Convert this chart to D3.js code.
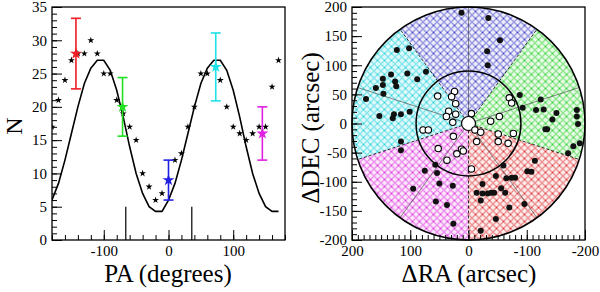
<!DOCTYPE html>
<html><head><meta charset="utf-8">
<script src="https://cdn.jsdelivr.net/npm/d3@7"></script>
<style>
body{margin:0;background:#fff}
text{font-family:"Liberation Serif","Times New Roman",serif}
</style></head>
<body><svg id="c" width="600" height="292"></svg>
<script>
// ---------- LEFT PANEL DATA ----------
const curvePA = [-180,-170,-160,-150,-140,-130,-120,-110,-100,-90,-80,-70,-60,-50,-40,-30,-20,-10,0,10,20,30,40,50,60,70,80,90,100,110,120,130,140,150,160,170];
const curveN  = [6,8.5,12,16,20,23.5,25.8,27,27,25.5,22.5,18.5,14,10,7,5,4.3,4.3,6,8.5,12,16,20,23.5,25.8,27,27,25.5,22.5,18.5,14,10,7,5,4.3,4.3];
const starPA = [-180,-170,-160,-150,-140,-130,-120,-110,-100,-90,-80,-70,-60,-50,-40,-30,-20,-10,10,20,30,40,50,60,80,90,100,110,120,130,140,150,160,170];
const starN  = [17,21,24,27,28,28,30,28,25,25,21,19,17,15,10,8,6,7,12,13,17,20,25,25,24,20,17,16,15,16,17,17,23,27];
const binPA  = [-143,-71,0,73,145];
const binN   = [28,20,9,26,16];
const binLo  = [22.7,15.6,6,20.9,12];
const binHi  = [33.3,24.4,12,31.1,20];
const binColor = ["#ee1c24","#22e022","#2020e0","#20e0e8","#e020e0"];
const markPA = [-66,36];
const markN  = 5;
const xTicksL = [-100,0,100];
const yTicksL = [0,5,10,15,20,25,30,35];

// ---------- RIGHT PANEL DATA ----------
// sectors: blue (N), cyan (NE), magenta (SE), red (S-W), green (W)
const sectorPA0 = [-36,36,108,180,-108];
const sectorPA1 = [36,108,180,252,-36];
const sectorLine = ["#4a4ac8","#2ed4dc","#dc3cdc","#de3c3c","#3cd43c"];
const sectorBg   = ["#ececfa","#e0f9fb","#fbe6fb","#fcebeb","#e6fae6"];
const boundaryPA = [36,108,180,-108,-36];
const centerPA = [0,72,144,-144,-72];
const ringR = [200,90];
const holeR = 12;
const filledRA  = [12,-34,-54,-32,-33, 123,102,73,105,133,147,126,147,124,159,146,88,176,101,116,128,130,153,116,116, -88,-93,-124,-116,-129,-151,-144,-132,-135,-186,-186,-188,-191,-180,-171, -60,-114,-101,-108,-47,-24,-65,-74,-80,-56,-14,-24,-33,-39,-44,-63,-21,-96,-70,-47,-21, 75,95,57,54,50,56,27,37,26];
const filledDEC = [190,181,143,124,100, 126,129,89,86,84,77,72,66,64,61,51,76,42,20,16,16,9,13,-31,-46, 49,27,41,23,24,18,7,-10,-10,23,12,-1,-34,-39,-51, -72,-64,-82,-83,-90,-104,-94,-93,-93,-111,-119,-120,-120,-119,-119,-119,-132,-138,-144,-164,-184, -81,-112,-71,-85,-103,-134,-107,-140,-172];
const openRA  = [24,29,22,53,34,38,22,27,-5,26,78,69,52,37,12,9,20,-11,-21,-14,-5,-38,-53,-51,-51,-68,-77,-70,-74];
const openDEC = [55,46,34,47,21,12,16,2,17,-22,-11,-11,-43,-63,-44,-47,-52,-11,-15,-31,-78,4,12,-18,-31,-34,-17,44,35];
const xTicksR = [200,100,0,-100,-200];
const yTicksR = [-200,-150,-100,-50,0,50,100,150,200];

const svg = d3.select("#c");
const font = "Liberation Serif, Times New Roman, serif";

function styleAxis(g){
  g.select(".domain").remove();
  g.selectAll(".tick line").attr("stroke","#000").attr("stroke-width",1);
  g.selectAll(".tick text").attr("font-family",font).attr("font-size",15).attr("fill","#000");
}

// ===== LEFT =====
const xL = d3.scaleLinear().domain([-180,180]).range([52,285]);
const yL = d3.scaleLinear().domain([0,35]).range([240,7]);
const gL = svg.append("g");
const defs = svg.append("defs");
defs.append("clipPath").attr("id","clipL").append("rect").attr("x",52).attr("y",7).attr("width",233).attr("height",233);

gL.append("g").attr("transform","translate(0,240)")
  .call(d3.axisBottom(xL).tickValues(d3.range(-180,181,20)).tickSize(-5).tickFormat(""))
  .call(styleAxis);
gL.append("g").attr("transform","translate(0,240)")
  .call(d3.axisBottom(xL).tickValues(xTicksL).tickSize(-10).tickPadding(5).tickFormat(d=>d<0?"-"+Math.abs(d):d))
  .call(styleAxis);
gL.append("g").attr("transform","translate(52,0)")
  .call(d3.axisLeft(yL).tickValues(d3.range(0,36,1)).tickSize(-5).tickFormat(""))
  .call(styleAxis);
gL.append("g").attr("transform","translate(52,0)")
  .call(d3.axisLeft(yL).tickValues(yTicksL).tickSize(-10).tickPadding(5))
  .call(styleAxis);
gL.append("rect").attr("x",52).attr("y",7).attr("width",233).attr("height",233)
  .attr("fill","none").attr("stroke","#000").attr("stroke-width",1.3);

const pL = gL.append("g").attr("clip-path","url(#clipL)");
pL.append("path").datum(curvePA.map((p,i)=>[p,curveN[i]]))
  .attr("d",d3.line().x(d=>xL(d[0])).y(d=>yL(d[1])))
  .attr("fill","none").attr("stroke","#000").attr("stroke-width",1.6);
pL.selectAll(".mk").data(markPA).join("line")
  .attr("x1",d=>xL(d)).attr("x2",d=>xL(d)).attr("y1",yL(0)).attr("y2",yL(markN))
  .attr("stroke","#000").attr("stroke-width",1.2);
const star = d3.symbol().type(d3.symbolStar);
pL.selectAll(".st").data(starPA.map((p,i)=>[p,starN[i]])).join("path")
  .attr("d",star.size(15)()).attr("transform",d=>`translate(${xL(d[0])},${yL(d[1])})`)
  .attr("fill","#000");
binPA.forEach((p,i)=>{
  const c=binColor[i], x=xL(p);
  pL.append("line").attr("x1",x).attr("x2",x).attr("y1",yL(binLo[i])).attr("y2",yL(binHi[i])).attr("stroke",c).attr("stroke-width",1.6);
  [binLo[i],binHi[i]].forEach(v=>pL.append("line").attr("x1",x-5).attr("x2",x+5).attr("y1",yL(v)).attr("y2",yL(v)).attr("stroke",c).attr("stroke-width",1.6));
  pL.append("path").attr("d",d3.symbol().type(d3.symbolStar).size(45)()).attr("transform",`translate(${x},${yL(binN[i])})`).attr("fill",c);
});
gL.append("text").attr("x",168).attr("y",282).attr("text-anchor","middle").attr("font-size",25).attr("font-family",font).text("PA (degrees)");
gL.append("text").attr("transform","translate(22,126) rotate(-90)").attr("text-anchor","middle").attr("font-size",24).attr("font-family",font).text("N");

// ===== RIGHT =====
const xR = d3.scaleLinear().domain([200,-200]).range([352,585]);
const yR = d3.scaleLinear().domain([-200,200]).range([240,7]);
const gR = svg.append("g");
const cx = xR(0), cy = yR(0);
const rpx = v => xR(0)-xR(v);

sectorLine.forEach((c,i)=>{
  const pat = defs.append("pattern").attr("id","h"+i).attr("patternUnits","userSpaceOnUse").attr("width",7).attr("height",7);
  pat.append("rect").attr("width",7).attr("height",7).attr("fill",sectorBg[i]);
  pat.append("path").attr("d","M0,0L7,7M7,0L0,7").attr("stroke",c).attr("stroke-width",1).attr("fill","none");
});
const arc = d3.arc().innerRadius(0).outerRadius(rpx(ringR[0]));
sectorPA0.forEach((a0,i)=>{
  const a = -a0*Math.PI/180, b = -sectorPA1[i]*Math.PI/180;
  gR.append("path").attr("transform",`translate(${cx},${cy})`)
    .attr("d",arc({startAngle:Math.min(a,b),endAngle:Math.max(a,b)}))
    .attr("fill",`url(#h${i})`);
});
function ray(pa){ const t=pa*Math.PI/180; return [Math.sin(t),Math.cos(t)]; }
boundaryPA.forEach(pa=>{
  const [s,c]=ray(pa);
  gR.append("line").attr("x1",xR(s*holeR)).attr("y1",yR(c*holeR)).attr("x2",xR(s*ringR[0])).attr("y2",yR(c*ringR[0]))
    .attr("stroke","#000").attr("stroke-width",0.8).attr("stroke-dasharray","3,2");
});
centerPA.forEach(pa=>{
  const [s,c]=ray(pa);
  gR.append("line").attr("x1",xR(s*holeR)).attr("y1",yR(c*holeR)).attr("x2",xR(s*ringR[0])).attr("y2",yR(c*ringR[0]))
    .attr("stroke","#555").attr("stroke-width",0.7);
});
ringR.forEach(r=>gR.append("circle").attr("cx",cx).attr("cy",cy).attr("r",rpx(r)).attr("fill","none").attr("stroke","#000").attr("stroke-width",1.5));
gR.append("circle").attr("cx",cx).attr("cy",cy).attr("r",rpx(holeR)).attr("fill","#fff").attr("stroke","#000").attr("stroke-width",1.2);
gR.selectAll(".fd").data(filledRA.map((r,i)=>[r,filledDEC[i]])).join("circle")
  .attr("cx",d=>xR(d[0])).attr("cy",d=>yR(d[1])).attr("r",3).attr("fill","#111");
gR.selectAll(".od").data(openRA.map((r,i)=>[r,openDEC[i]])).join("circle")
  .attr("cx",d=>xR(d[0])).attr("cy",d=>yR(d[1])).attr("r",3.2).attr("fill","#fff").attr("stroke","#000").attr("stroke-width",1.1);

gR.append("g").attr("transform","translate(0,240)")
  .call(d3.axisBottom(xR).tickValues(d3.range(-200,201,10)).tickSize(-5).tickFormat(""))
  .call(styleAxis);
gR.append("g").attr("transform","translate(0,240)")
  .call(d3.axisBottom(xR).tickValues(xTicksR).tickSize(-10).tickPadding(5).tickFormat(d=>d<0?"-"+Math.abs(d):d))
  .call(styleAxis);
gR.append("g").attr("transform","translate(352,0)")
  .call(d3.axisLeft(yR).tickValues(d3.range(-200,201,10)).tickSize(-5).tickFormat(""))
  .call(styleAxis);
gR.append("g").attr("transform","translate(352,0)")
  .call(d3.axisLeft(yR).tickValues(yTicksR).tickSize(-10).tickPadding(5).tickFormat(d=>d<0?"-"+Math.abs(d):d))
  .call(styleAxis);
gR.append("rect").attr("x",352).attr("y",7).attr("width",233).attr("height",233)
  .attr("fill","none").attr("stroke","#000").attr("stroke-width",1.3);
gR.append("text").attr("x",469).attr("y",282).attr("text-anchor","middle").attr("font-size",25).attr("font-family",font).text("ΔRA (arcsec)");
gR.append("text").attr("transform","translate(319,128) rotate(-90)").attr("text-anchor","middle").attr("font-size",25).attr("font-family",font).text("ΔDEC (arcsec)");
</script></body></html>
